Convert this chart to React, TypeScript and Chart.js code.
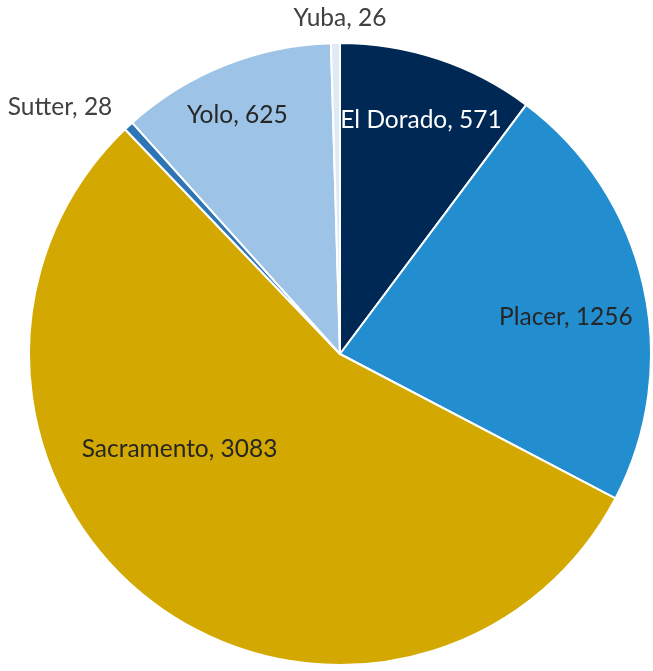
import React, { useEffect, useRef } from "react";
import { Chart, registerables } from "chart.js";

Chart.register(...registerables);

const categories = ["El Dorado", "Placer", "Sacramento", "Sutter", "Yolo", "Yuba"];
const values = [571, 1256, 3083, 28, 625, 26];
const colors = ["#002855", "#228dcf", "#d3a800", "#2e75b6", "#9dc3e6", "#deebf7"];
const labelColors = ["#ffffff", "#262626", "#262626", "#404040", "#262626", "#404040"];
// label placement: angle (deg from top, clockwise) and radius as fraction of outer radius
const labelAngles = [19.1, 80.7, 239.3, 311.4, 336.7, 0];
const labelRadii = [0.796, 0.736, 0.6, 1.2, 0.835, 1.08];

const labelPlugin = {
  id: "sliceLabels",
  afterDatasetsDraw(chart: any) {
    const ctx = chart.ctx;
    const meta = chart.getDatasetMeta(0);
    ctx.save();
    ctx.font = "24.5px Lato, 'Noto Sans', sans-serif";
    ctx.textAlign = "center";
    ctx.textBaseline = "middle";
    meta.data.forEach((arc: any, i: number) => {
      const { x, y, outerRadius } = arc.getProps(["x", "y", "outerRadius"], true);
      const a = (labelAngles[i] * Math.PI) / 180;
      const r = outerRadius * labelRadii[i];
      const lx = x + Math.sin(a) * r;
      const ly = y - Math.cos(a) * r;
      ctx.fillStyle = labelColors[i];
      ctx.fillText(`${categories[i]}, ${values[i]}`, lx, ly);
    });
    ctx.restore();
  },
};

export default function App() {
  const ref = useRef<HTMLCanvasElement>(null);
  useEffect(() => {
    document.body.style.margin = "0";
    const chart = new Chart(ref.current!, {
      type: "pie",
      data: {
        labels: categories,
        datasets: [
          {
            data: values,
            backgroundColor: colors,
            borderColor: "#ffffff",
            borderWidth: 2,
          },
        ],
      },
      options: {
        animation: false,
        responsive: false,
        layout: { padding: { left: 28, right: 1, top: 42, bottom: 5 } },
        plugins: {
          legend: { display: false },
          tooltip: { enabled: false },
        },
      },
      plugins: [labelPlugin],
    });
    return () => chart.destroy();
  }, []);
  return (
    <div style={{ width: 653, height: 671, background: "#fff" }}>
      <canvas ref={ref} width={653} height={671} />
    </div>
  );
}
